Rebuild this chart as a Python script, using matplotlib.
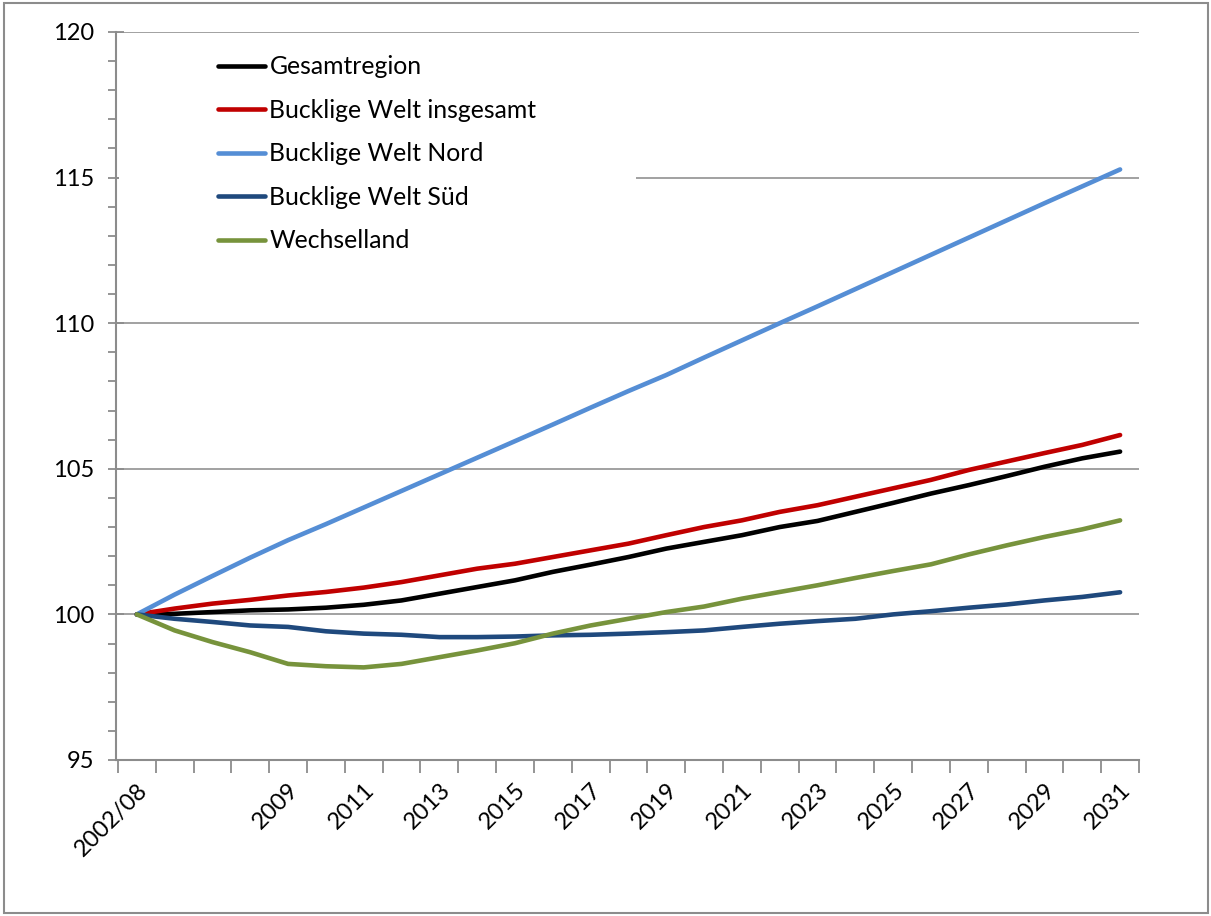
import matplotlib.pyplot as plt
from matplotlib.patches import Rectangle
from matplotlib.ticker import MultipleLocator

plt.rcParams['font.family'] = ['Lato', 'DejaVu Sans']

# categories: base period, three unlabelled steps, then yearly 2009-2031
categories = ["2002/08", "", "", ""] + [str(y) for y in range(2009, 2032)]

gesamtregion = [100, 100.02, 100.08, 100.14, 100.17, 100.23, 100.33, 100.48, 100.71,
                100.94, 101.17, 101.46, 101.71, 101.97, 102.26, 102.49, 102.72, 103.0,
                103.21, 103.52, 103.83, 104.15, 104.44, 104.75, 105.07, 105.36, 105.59]
bw_insgesamt = [100, 100.2, 100.37, 100.5, 100.65, 100.77, 100.92, 101.11, 101.34,
                101.57, 101.74, 101.97, 102.2, 102.43, 102.72, 103.0, 103.23, 103.52,
                103.75, 104.04, 104.33, 104.62, 104.96, 105.25, 105.54, 105.82, 106.16]
bw_nord = [100, 100.68, 101.32, 101.95, 102.55, 103.1, 103.67, 104.24, 104.81,
           105.38, 105.95, 106.52, 107.1, 107.67, 108.22, 108.82, 109.41, 110.0,
           110.58, 111.17, 111.76, 112.35, 112.94, 113.53, 114.12, 114.7, 115.28]
bw_sued = [100, 99.85, 99.74, 99.62, 99.57, 99.42, 99.34, 99.30, 99.22,
           99.22, 99.24, 99.28, 99.3, 99.34, 99.39, 99.45, 99.57, 99.68,
           99.77, 99.85, 100.0, 100.11, 100.23, 100.34, 100.48, 100.6, 100.76]
wechselland = [100, 99.45, 99.05, 98.7, 98.3, 98.22, 98.18, 98.3, 98.53,
               98.76, 99.01, 99.34, 99.62, 99.85, 100.08, 100.27, 100.54, 100.77,
               101.0, 101.25, 101.49, 101.72, 102.06, 102.37, 102.66, 102.92, 103.23]

series = [
    ("Gesamtregion", gesamtregion, "#000000"),
    ("Bucklige Welt insgesamt", bw_insgesamt, "#C00000"),
    ("Bucklige Welt Nord", bw_nord, "#558ED5"),
    ("Bucklige Welt Süd", bw_sued, "#1F497D"),
    ("Wechselland", wechselland, "#77933C"),
]

W, H = 1211, 916
fig = plt.figure(figsize=(W / 100, H / 100), dpi=100)
ax = fig.add_axes([116 / W, 1 - 760 / H, (1139 - 116) / W, (760 - 32) / H])

# outer chart border
fig.patches.append(Rectangle((4 / W, 3 / H), 1204 / W, 910 / H, transform=fig.transFigure,
                             fill=False, edgecolor="#8c8c8c", linewidth=1.5))

x = range(len(categories))
for name, vals, col in series:
    ax.plot(x, vals, color=col, lw=3.3, label=name, zorder=3,
            solid_joinstyle="round", solid_capstyle="round")

ax.set_xlim(-0.55, len(categories) - 0.5)
ax.set_ylim(95, 120)

# y axis
ax.yaxis.set_major_locator(MultipleLocator(5))
ax.yaxis.set_minor_locator(MultipleLocator(1))
ax.grid(axis="y", which="major", color="#9a9a9a", lw=1.3)
ax.set_axisbelow(True)
ax.tick_params(axis="y", which="major", direction="inout", length=12, width=1.3,
               color="#8c8c8c", labelsize=17, pad=10)
ax.tick_params(axis="y", which="minor", direction="out", length=6, width=1.3,
               color="#8c8c8c")

# x axis: labels at category centres, tick marks at boundaries
label_idx = [0] + list(range(4, len(categories), 2))
ax.set_xticks(label_idx)
ax.set_xticklabels([categories[i] for i in label_idx], rotation=45, ha="right",
                   va="top", rotation_mode="anchor", fontsize=17)
ax.set_xticks([i - 0.5 for i in range(len(categories) + 1)], minor=True)
ax.tick_params(axis="x", which="major", length=0, pad=14)
ax.tick_params(axis="x", which="minor", direction="out", length=9, width=1.3,
               color="#8c8c8c")

for s in ["top", "right"]:
    ax.spines[s].set_visible(False)
for s in ["left", "bottom"]:
    ax.spines[s].set_color("#8c8c8c")
    ax.spines[s].set_linewidth(1.5)

# white legend area covering the gridline
ax.add_patch(Rectangle((0.003, 0.694), 0.505, 0.295, transform=ax.transAxes,
                       facecolor="white", edgecolor="none", zorder=1))

ax.legend(loc="upper left", bbox_to_anchor=(0.1, 0.968), frameon=False,
          fontsize=17.8, handlelength=1.9, handletextpad=0.17, labelspacing=0.83,
          borderpad=0, borderaxespad=0)

fig.savefig("out.png", dpi=100)
